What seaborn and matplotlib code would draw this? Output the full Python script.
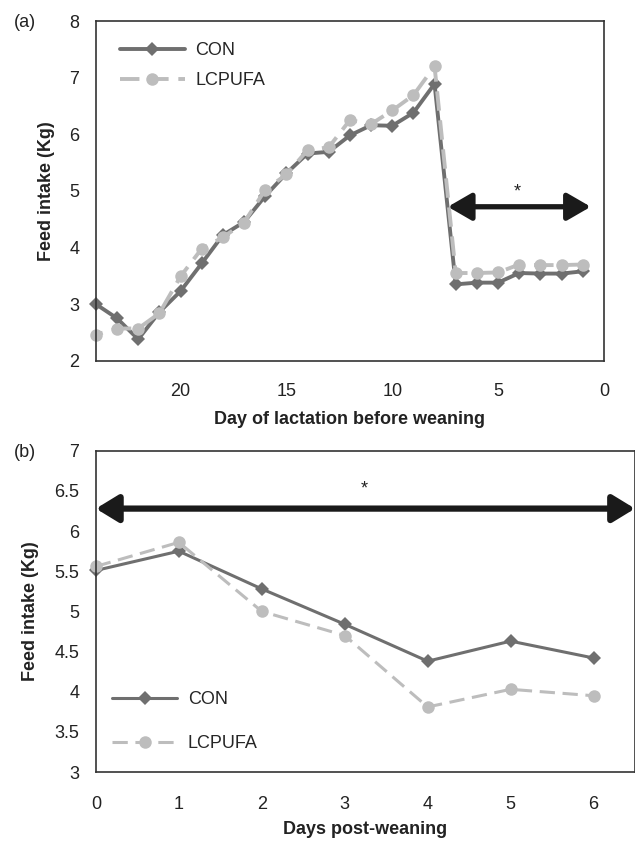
import pandas as pd
import matplotlib.pyplot as plt
import seaborn as sns
from matplotlib.patches import ArrowStyle

# data
days_pre = list(range(24, 0, -1))
con_pre = [3.00, 2.75, 2.38, 2.86, 3.23, 3.72, 4.22, 4.45, 4.91, 5.31, 5.66, 5.69,
           5.98, 6.16, 6.15, 6.38, 6.89, 3.35, 3.38, 3.38, 3.55, 3.54, 3.54, 3.58]
lcp_pre = [2.46, 2.57, 2.57, 2.84, 3.49, 3.98, 4.18, 4.44, 5.02, 5.29, 5.72, 5.77,
           6.25, 6.18, 6.42, 6.69, 7.20, 3.55, 3.55, 3.56, 3.70, 3.69, 3.69, 3.70]

days_post = [0, 1, 2, 3, 4, 5, 6]
con_post = [5.51, 5.75, 5.28, 4.84, 4.38, 4.63, 4.42]
lcp_post = [5.56, 5.86, 5.00, 4.70, 3.81, 4.03, 3.95]

groups = ["CON", "LCPUFA"]

df_pre = pd.DataFrame({
    "day": days_pre * 2,
    "intake": con_pre + lcp_pre,
    "group": ["CON"] * len(days_pre) + ["LCPUFA"] * len(days_pre),
})
df_post = pd.DataFrame({
    "day": days_post * 2,
    "intake": con_post + lcp_post,
    "group": ["CON"] * len(days_post) + ["LCPUFA"] * len(days_post),
})

sns.set_style("white")
plt.rcParams["font.family"] = ["Liberation Sans", "DejaVu Sans"]

palette = {"CON": "#6f6f6f", "LCPUFA": "#bdbdbd"}
markers = {"CON": "D", "LCPUFA": "o"}
dashes = {"CON": "", "LCPUFA": (5, 2.5)}
txt = "#222222"

fig = plt.figure(figsize=(6.35, 8.41), dpi=100)
ax1 = fig.add_axes([0.151, 0.571, 0.800, 0.404])
ax2 = fig.add_axes([0.151, 0.082, 0.849, 0.382])


def draw(ax, df, lw):
    sns.lineplot(data=df, x="day", y="intake", hue="group", style="group",
                 hue_order=groups, style_order=groups, palette=palette,
                 markers=markers, dashes=dashes, markersize=8, linewidth=lw,
                 markeredgewidth=0, ax=ax, clip_on=False)
    for ln in ax.lines:
        if ln.get_marker() == "D":
            ln.set_markersize(7)
        else:
            ln.set_markersize(9)


# ---- panel (a)
draw(ax1, df_pre, 2.8)
ax1.set_xlim(24, 0)
ax1.set_ylim(2, 8)
ax1.set_xticks([20, 15, 10, 5, 0])
ax1.set_yticks([2, 3, 4, 5, 6, 7, 8])
ax1.tick_params(axis="x", direction="out", length=6, width=1, labelsize=13, colors=txt, pad=10)
ax1.tick_params(axis="y", direction="in", length=5, width=1, labelsize=13, colors=txt, pad=12)
ax1.set_xlabel("Day of lactation before weaning", fontsize=13, fontweight="bold",
               color=txt, labelpad=8)
ax1.set_ylabel("Feed intake (Kg)", fontsize=13, fontweight="bold", color=txt)
ax1.yaxis.set_label_coords(-0.08, 0.5)
ax1.annotate("", xy=(0.62, 4.72), xytext=(7.37, 4.72), annotation_clip=False,
             arrowprops=dict(arrowstyle=ArrowStyle("<|-|>", head_length=0.95, head_width=0.55),
                             mutation_scale=15, lw=3.8, color="#1a1a1a",
                             shrinkA=0, shrinkB=0))
ax1.text(4.1, 4.98, "*", ha="center", va="center", fontsize=13, color=txt)
ax1.legend(loc="upper left", bbox_to_anchor=(0.015, 0.985), frameon=False, fontsize=13,
           handlelength=3.6, labelspacing=0.7, handletextpad=0.6, borderpad=0.4)
for side in ["left", "right", "top", "bottom"]:
    ax1.spines[side].set_color("#333333")
    ax1.spines[side].set_linewidth(1.2)
fig.text(0.022, 0.973, "(a)", fontsize=13, color=txt, va="center")

# ---- panel (b)
draw(ax2, df_post, 2.2)
ax2.set_xlim(0, 6.5)
ax2.set_ylim(3, 7)
ax2.set_xticks(days_post)
ax2.set_yticks([3, 3.5, 4, 4.5, 5, 5.5, 6, 6.5, 7])
ax2.set_yticklabels(["3", "3.5", "4", "4.5", "5", "5.5", "6", "6.5", "7"])
ax2.tick_params(axis="both", direction="out", length=6, width=1, labelsize=13, colors=txt, pad=6)
ax2.tick_params(axis="x", pad=11)
ax2.set_xlabel("Days post-weaning", fontsize=13, fontweight="bold", color=txt, labelpad=6)
ax2.set_ylabel("Feed intake (Kg)", fontsize=13, fontweight="bold", color=txt)
ax2.yaxis.set_label_coords(-0.106, 0.5)
ax2.annotate("", xy=(6.5, 6.28), xytext=(0, 6.28), annotation_clip=False,
             arrowprops=dict(arrowstyle=ArrowStyle("<|-|>", head_length=0.9, head_width=0.55),
                             mutation_scale=15, lw=4.5, color="#1a1a1a",
                             shrinkA=0, shrinkB=0))
ax2.text(3.24, 6.52, "*", ha="center", va="center", fontsize=13, color=txt)
ax2.legend(loc="lower left", bbox_to_anchor=(0.0, 0.012), frameon=False, fontsize=13,
           handlelength=3.6, labelspacing=1.5, handletextpad=0.6, borderpad=0.4)
for side in ["left", "right", "top", "bottom"]:
    ax2.spines[side].set_color("#333333")
    ax2.spines[side].set_linewidth(1.2)
fig.text(0.022, 0.462, "(b)", fontsize=13, color=txt, va="center")

fig.savefig("out.png", dpi=100)
